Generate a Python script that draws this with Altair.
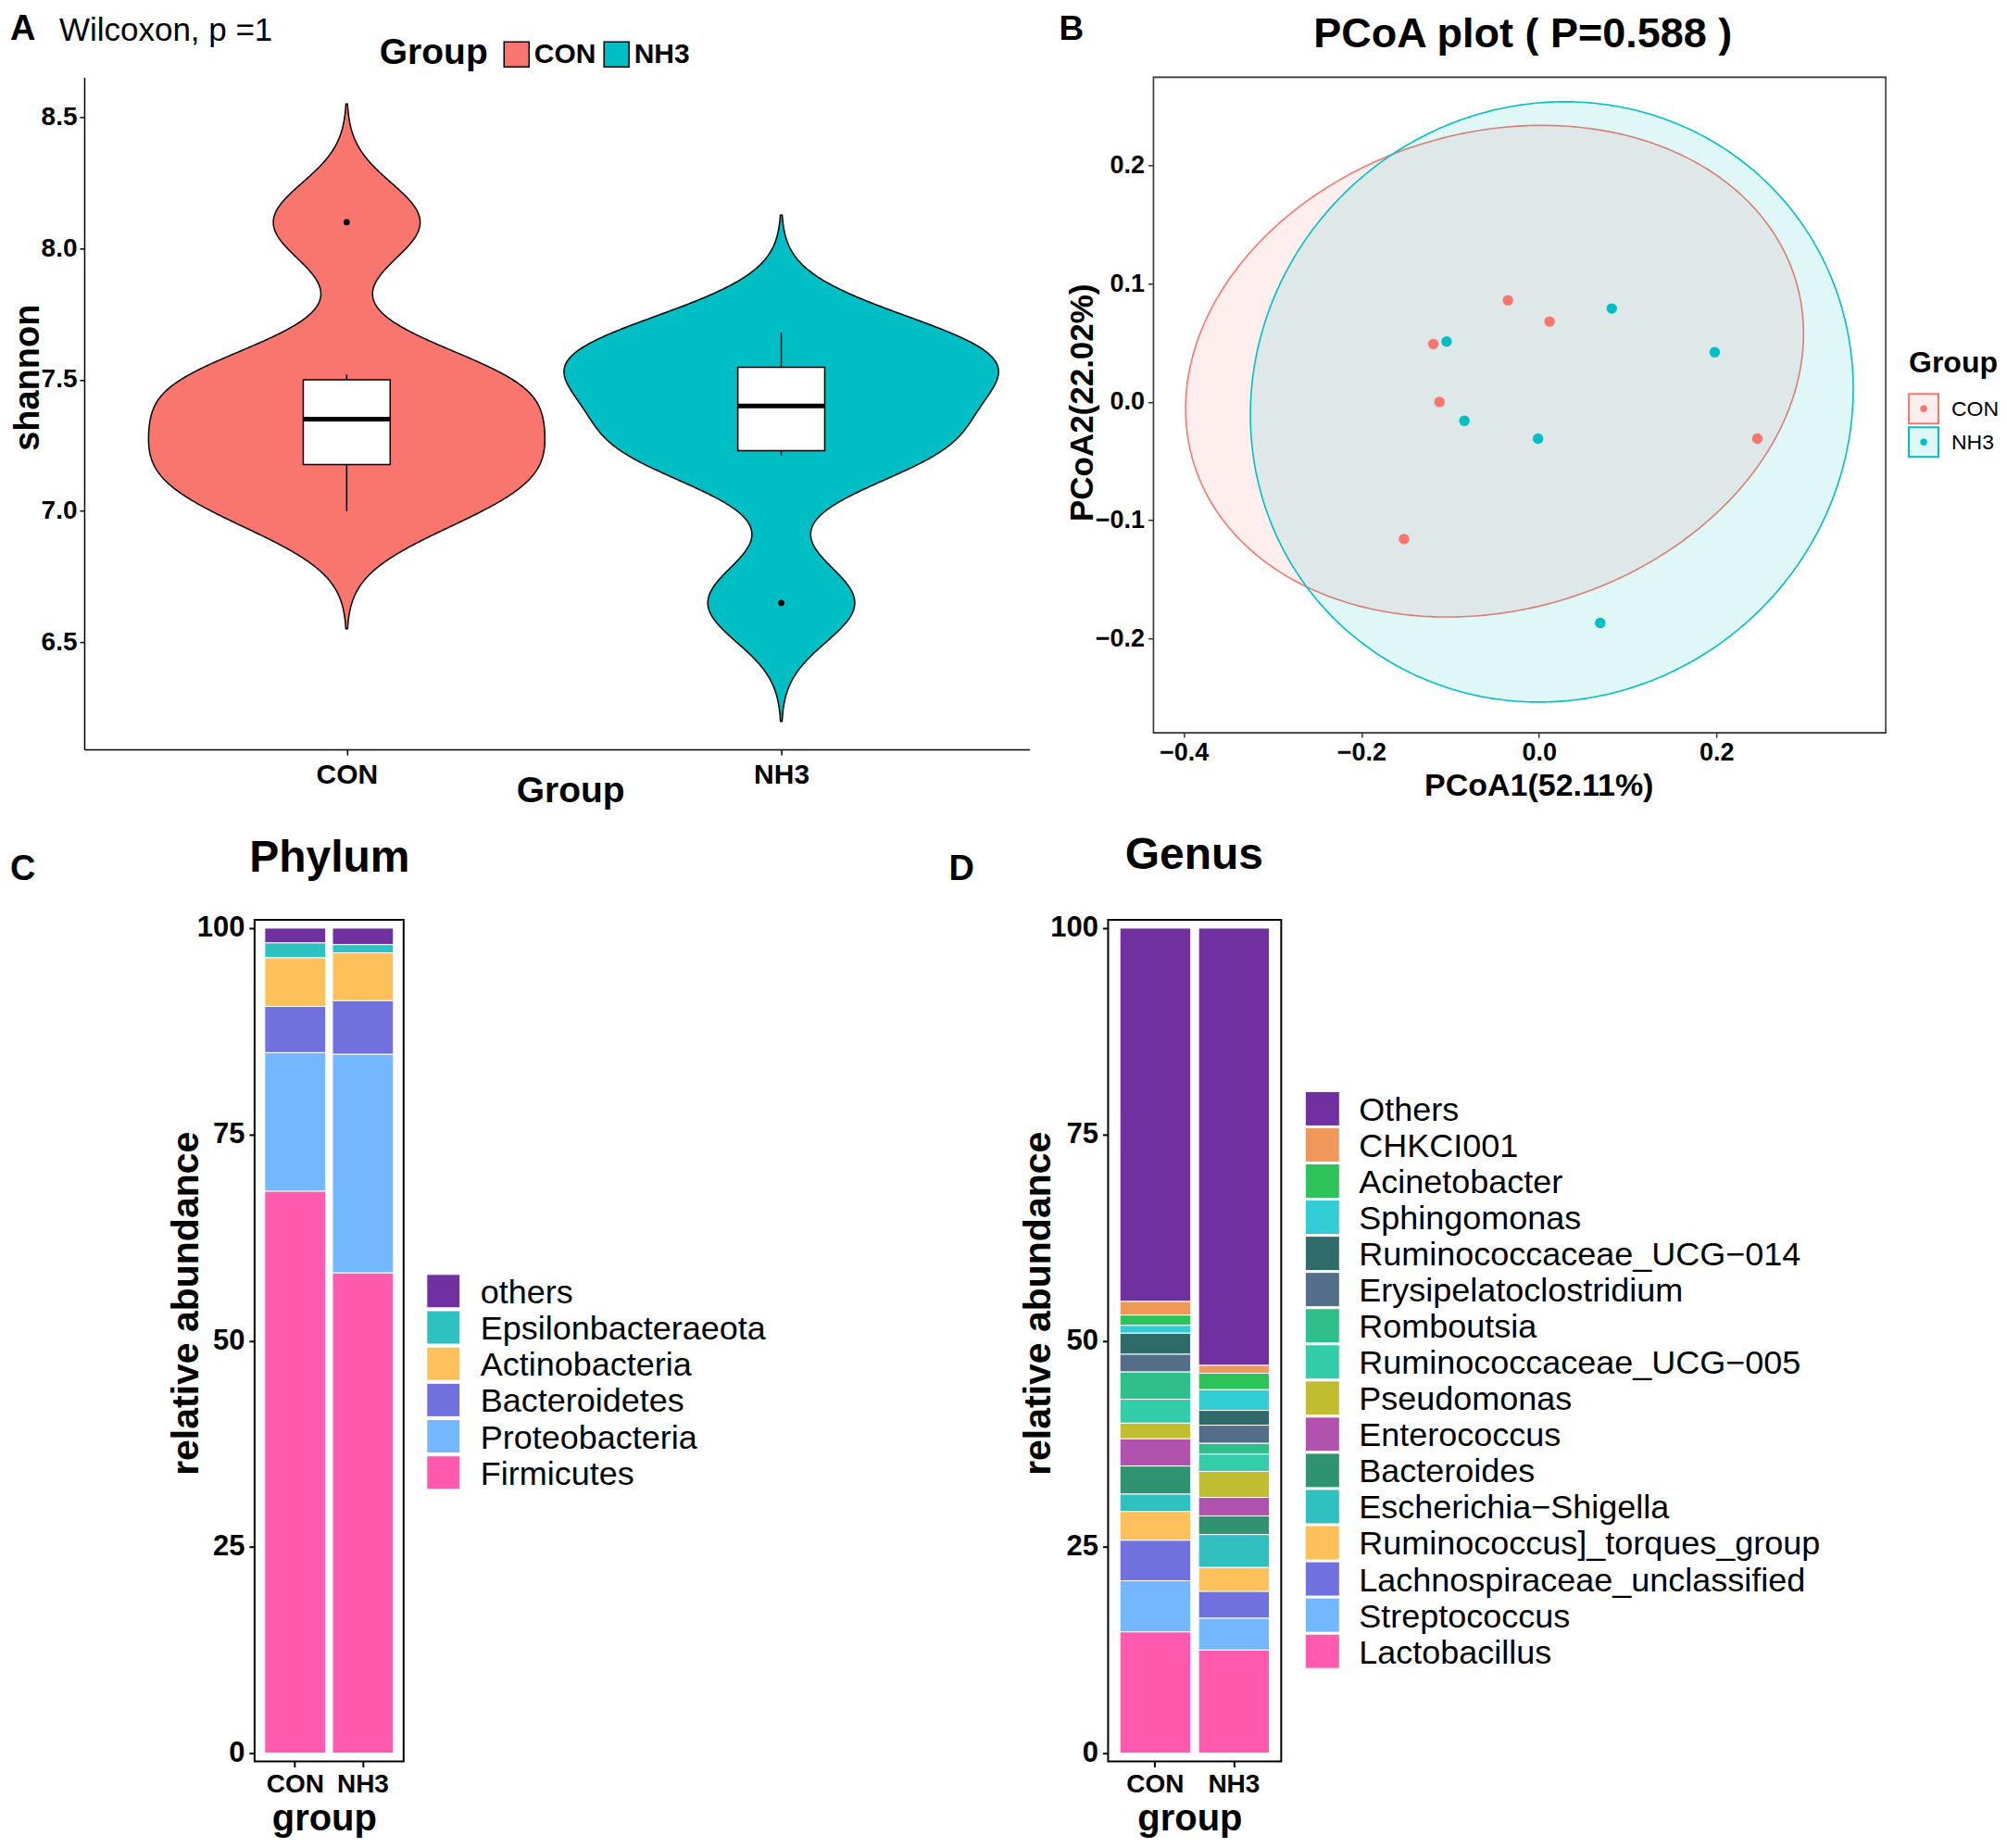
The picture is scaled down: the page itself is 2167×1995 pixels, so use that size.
import json
import altair as alt
import numpy as np
import pandas as pd

FONT = "Liberation Sans"

# ---------------------------------------------------------------- data
groups = ["CON", "NH3"]
group_colors = ["#F8766D", "#00BFC4"]

# Panel A - Shannon index of each sample
shannon_con = [7.00, 7.15, 7.26, 7.44, 7.52, 8.10]
shannon_nh3 = [6.65, 7.21, 7.29, 7.51, 7.56, 7.68]

# Panel B - PCoA coordinates of each sample
pcoa1_con = [-0.035, 0.012, -0.119, -0.112, 0.246, -0.152]
pcoa2_con = [0.086, 0.068, 0.049, 0.000, -0.031, -0.116]
pcoa1_nh3 = [0.082, 0.198, -0.104, -0.084, -0.001, 0.069]
pcoa2_nh3 = [0.079, 0.042, 0.051, -0.016, -0.031, -0.187]
# confidence ellipse of each group: centre, half extents, correlation
ellipse_cx = [-0.050, 0.0145]
ellipse_cy = [0.026, 0.000]
ellipse_sx = [0.348, 0.3395]
ellipse_sy = [0.208, 0.254]
ellipse_rho = [0.153, 0.043]

# Panel C - phylum relative abundance (%), legend order (top of stack first)
phylum_names = ["others", "Epsilonbacteraeota", "Actinobacteria",
                "Bacteroidetes", "Proteobacteria", "Firmicutes"]
phylum_con = [1.8, 1.8, 5.9, 5.6, 16.8, 68.1]
phylum_nh3 = [2.0, 1.0, 5.8, 6.5, 26.5, 58.2]
phylum_colors = ["#7030A0", "#2EC1C1", "#FEC05A", "#7070DE", "#73B8FF", "#FF5AAD"]

# Panel D - genus relative abundance (%)
genus_names = ["Others", "CHKCI001", "Acinetobacter", "Sphingomonas",
               "Ruminococcaceae_UCG\u2212014", "Erysipelatoclostridium", "Romboutsia",
               "Ruminococcaceae_UCG\u2212005", "Pseudomonas", "Enterococcus",
               "Bacteroides", "Escherichia\u2212Shigella", "Ruminococcus]_torques_group",
               "Lachnospiraceae_unclassified", "Streptococcus", "Lactobacillus"]
genus_con = [45.25, 1.65, 1.25, 0.95, 2.55, 2.15, 3.3, 2.9, 1.9, 3.3,
             3.4, 2.1, 3.5, 4.9, 6.2, 14.7]
genus_nh3 = [53.0, 0.95, 2.0, 2.5, 1.8, 2.2, 1.3, 2.1, 3.15, 2.25,
             2.25, 4.0, 2.9, 3.25, 3.85, 12.5]
genus_colors = ["#7030A0", "#F0985A", "#2EC35A", "#31CCD4", "#2F6B6B", "#546E8A",
                "#2EBF8A", "#34CDAA", "#C0BE30", "#B052AE", "#2F9270", "#30C0C0",
                "#FEC05A", "#7070DE", "#73B8FF", "#FF5AAD"]


# ---------------------------------------------------------------- helpers
def label(text, x, y, size, weight="bold", align="left"):
    return alt.Chart(pd.DataFrame({"t": [text]})).mark_text(
        fontSize=size, fontWeight=weight, align=align, baseline="middle",
        color="black", font=FONT
    ).encode(text="t:N", x=alt.value(x), y=alt.value(y))


def guide(x, x2, y, y2):
    # invisible element that only reserves room at the page edge
    return alt.Chart(pd.DataFrame({"g": [0]})).mark_rule(opacity=0).encode(
        x=alt.value(x), x2=alt.value(x2), y=alt.value(y), y2=alt.value(y2))


def spacer(w, h=10):
    return alt.Chart(pd.DataFrame({"s": [0]})).mark_point(opacity=0).encode(
        x=alt.value(0), y=alt.value(0)).properties(width=w, height=h)


def bw_nrd0(v):
    v = np.asarray(v, float)
    q75, q25 = np.percentile(v, [75, 25])
    return 0.9 * min(v.std(ddof=1), (q75 - q25) / 1.34) * len(v) ** -0.2


grp_scale = alt.Scale(domain=groups, range=group_colors)
IND = dict(color="independent", fill="independent", stroke="independent")

# ---------------------------------------------------------------- panel A
df_a = pd.DataFrame({
    "Group": ["CON"] * len(shannon_con) + ["NH3"] * len(shannon_nh3),
    "shannon": shannon_con + shannon_nh3,
})
df_a["pos"] = df_a["Group"].map({g: i + 1 for i, g in enumerate(groups)})
bw = float(np.mean([bw_nrd0(shannon_con), bw_nrd0(shannon_nh3)]))
vals = [shannon_con, shannon_nh3]
bounds = pd.DataFrame({
    "Group": groups, "pos": [1, 2],
    "lo": [min(v) - 3 * bw for v in vals],
    "hi": [max(v) + 3 * bw for v in vals],
})

xA = alt.Scale(domain=[0.396, 2.571], nice=False, zero=False)
yA = alt.Scale(domain=[6.092, 8.652], nice=False, zero=False)
WA, HA = 1021, 726

axis_xA = alt.Axis(
    values=[1, 2], labelExpr=f"{json.dumps(groups)}[datum.value - 1]",
    title="Group", grid=False, domain=True, domainColor="black", domainWidth=1.5,
    ticks=True, tickColor="black", tickWidth=1.5, tickSize=6,
    labelFontSize=30, labelFontWeight="bold", labelColor="black", labelPadding=6,
    labelOverlap=False, labelFlush=False,
    titleFontSize=39, titleFontWeight="bold", titleColor="black",
    titleX=525, titleY=44, titleBaseline="middle", titleAlign="center")
axis_yA = alt.Axis(
    values=[6.5, 7.0, 7.5, 8.0, 8.5], format=".1f", title="shannon", grid=False,
    domain=True, domainColor="black", domainWidth=1.5,
    ticks=True, tickColor="black", tickWidth=1.5, tickSize=5,
    labelFontSize=28, labelFontWeight="bold", labelColor="black", labelPadding=3,
    labelFlush=False,
    titleFontSize=38, titleFontWeight="bold", titleColor="black",
    titleX=-60, titleY=324, titleAngle=-90, titleBaseline="middle", titleAlign="center")

violin = alt.Chart(df_a).transform_density(
    "shannon", groupby=["Group"], bandwidth=bw,
    extent=[float(bounds["lo"].min()), float(bounds["hi"].max())],
    steps=500, as_=["val", "dens"]
).transform_lookup(
    lookup="Group", from_=alt.LookupData(bounds, "Group", ["pos", "lo", "hi"])
).transform_filter(
    "datum.val >= datum.lo && datum.val <= datum.hi"
).transform_joinaggregate(
    maxd="max(dens)"
).transform_calculate(
    xa="datum.pos - 0.5 * datum.dens / datum.maxd",
    xb="datum.pos + 0.5 * datum.dens / datum.maxd",
).mark_area(orient="horizontal", stroke="black", strokeWidth=1.5).encode(
    y=alt.Y("val:Q", scale=yA, axis=axis_yA),
    x=alt.X("xa:Q", scale=xA, axis=axis_xA, stack=None),
    x2="xb:Q",
    fill=alt.Fill("Group:N", scale=grp_scale, legend=alt.Legend(
        orient="none", legendX=452, legendY=-40, direction="horizontal", title=None,
        symbolType="square", symbolSize=729, symbolStrokeColor="black",
        symbolStrokeWidth=1.5, labelFontSize=30, labelFontWeight="bold",
        labelColor="black", labelOffset=4, columnPadding=5, padding=0)),
)

box_base = alt.Chart(df_a).transform_joinaggregate(
    q1="q1(shannon)", q3="q3(shannon)", med="median(shannon)", groupby=["Group"]
).transform_calculate(
    lo="datum.q1 - 1.5 * (datum.q3 - datum.q1)",
    hi="datum.q3 + 1.5 * (datum.q3 - datum.q1)",
)
stats = box_base.transform_filter(
    "datum.shannon >= datum.lo && datum.shannon <= datum.hi"
).transform_aggregate(
    wmin="min(shannon)", wmax="max(shannon)", q1="max(q1)", q3="max(q3)",
    med="max(med)", groupby=["Group", "pos"]
).transform_calculate(bl="datum.pos - 0.1", br="datum.pos + 0.1")

whisker = stats.mark_rule(color="black", strokeWidth=1.5).encode(
    x=alt.X("pos:Q", scale=xA, axis=axis_xA),
    y=alt.Y("wmin:Q", scale=yA, axis=axis_yA), y2="wmax:Q")
boxrect = stats.mark_rect(fill="white", stroke="black", strokeWidth=1.5).encode(
    x=alt.X("bl:Q", scale=xA, axis=axis_xA), x2="br:Q",
    y=alt.Y("q1:Q", scale=yA, axis=axis_yA), y2="q3:Q")
median = stats.mark_rule(color="black", strokeWidth=5).encode(
    x=alt.X("bl:Q", scale=xA, axis=axis_xA), x2="br:Q",
    y=alt.Y("med:Q", scale=yA, axis=axis_yA))
outliers = box_base.transform_filter(
    "datum.shannon < datum.lo || datum.shannon > datum.hi"
).mark_circle(color="black", size=45, opacity=1).encode(
    x=alt.X("pos:Q", scale=xA, axis=axis_xA),
    y=alt.Y("shannon:Q", scale=yA, axis=axis_yA))

panel_a = alt.layer(
    violin, whisker, boxrect, median, outliers,
    label("A", -80, -51, 38),
    label("Wilcoxon, p =1", -27, -50, 35, weight="normal"),
    label("Group", 319, -26, 39),
    guide(-83, -82, 0, 10),
).properties(width=WA, height=HA)

# ---------------------------------------------------------------- panel B
WB, HB = 791, 708
xB = alt.Scale(domain=[-0.4342, 0.3906], nice=False, zero=False)
yB = alt.Scale(domain=[-0.280, 0.2747], nice=False, zero=False)

ell_df = pd.DataFrame({"Group": groups, "cx": ellipse_cx, "cy": ellipse_cy,
                       "sx": ellipse_sx, "sy": ellipse_sy, "rho": ellipse_rho})
pts_df = pd.DataFrame({
    "Group": ["CON"] * len(pcoa1_con) + ["NH3"] * len(pcoa1_nh3),
    "PCoA1": pcoa1_con + pcoa1_nh3,
    "PCoA2": pcoa2_con + pcoa2_nh3,
})

axis_common_b = dict(grid=False, domain=False, ticks=True, tickColor="#333333",
                     tickWidth=1.5, labelFontSize=27, labelFontWeight="bold",
                     labelColor="black", labelFlush=False,
                     titleFontWeight="bold", titleColor="black")
axis_xB = alt.Axis(values=[-0.4, -0.2, 0.0, 0.2], format=".1f", title="PCoA1(52.11%)",
                   tickSize=5, labelPadding=3, titleFontSize=34,
                   titleX=416, titleY=57, titleBaseline="middle", titleAlign="center",
                   **axis_common_b)
axis_yB = alt.Axis(values=[-0.2, -0.1, 0.0, 0.1, 0.2], format=".1f",
                   title="PCoA2(22.02%)", tickSize=6, labelPadding=4, titleFontSize=35,
                   titleX=-77, titleY=351, titleAngle=-90, titleBaseline="middle",
                   titleAlign="center", **axis_common_b)

ellipses = alt.Chart(ell_df).transform_calculate(
    k="sequence(0, 241)"
).transform_flatten(["k"]).transform_calculate(
    u="-cos(PI * datum.k / 240)",
    ex="datum.cx + datum.sx * datum.u",
    ey1="datum.cy + datum.sy * (datum.rho * datum.u + sqrt(1 - datum.rho * datum.rho) * sqrt(max(0, 1 - datum.u * datum.u)))",
    ey2="datum.cy + datum.sy * (datum.rho * datum.u - sqrt(1 - datum.rho * datum.rho) * sqrt(max(0, 1 - datum.u * datum.u)))",
).mark_area(fillOpacity=0.12, strokeWidth=1.6).encode(
    x=alt.X("ex:Q", scale=xB, axis=axis_xB),
    y=alt.Y("ey1:Q", scale=yB, axis=axis_yB, stack=None),
    y2="ey2:Q",
    fill=alt.Fill("Group:N", scale=grp_scale, legend=None),
    stroke=alt.Stroke("Group:N", scale=grp_scale, legend=None),
)
points = alt.Chart(pts_df).mark_circle(size=130, opacity=1).encode(
    x=alt.X("PCoA1:Q", scale=xB, axis=axis_xB),
    y=alt.Y("PCoA2:Q", scale=yB, axis=None),
    color=alt.Color("Group:N", scale=grp_scale, legend=None),
)

# legend of panel B: outlined key with a dot, as in the original
leg_b = pd.DataFrame({"Group": groups})
leg_b_y = alt.Y("Group:N", axis=None,
                scale=alt.Scale(type="point", domain=groups, range=[358, 394], padding=0))
leg_b_box = alt.Chart(leg_b).mark_square(size=1024, strokeWidth=2, fillOpacity=0.12,
                                         opacity=1).encode(
    x=alt.value(832), y=leg_b_y,
    fill=alt.Fill("Group:N", scale=grp_scale, legend=None),
    stroke=alt.Stroke("Group:N", scale=grp_scale, legend=None))
leg_b_dot = alt.Chart(leg_b).mark_circle(size=55, opacity=1).encode(
    x=alt.value(832), y=leg_b_y,
    color=alt.Color("Group:N", scale=grp_scale, legend=None))
leg_b_txt = alt.Chart(leg_b).mark_text(align="left", baseline="middle", fontSize=23,
                                       color="black", font=FONT, dy=1).encode(
    x=alt.value(862), y=leg_b_y, text="Group:N")

panel_b = alt.layer(
    ellipses, points, leg_b_box, leg_b_dot, leg_b_txt,
    label("Group", 816, 309, 32),
    label("PCoA plot ( P=0.588 )", 399, -46, 45, align="center"),
    label("B", -102, -51, 37),
    guide(0, 10, -74, -73),
).resolve_scale(y="independent").properties(
    width=WB, height=HB, view=alt.ViewBackground(stroke="#333333", strokeWidth=1.6))


# ---------------------------------------------------------------- panels C, D
def stacked(names, con_vals, nh3_vals, colors, width, title, title_x, title_y,
            letter, letter_x, key_x, key_size, text_x, key_range, xtitle_x, ytitle_x):
    rows = []
    for g, vals_g in zip(groups, [con_vals, nh3_vals]):
        for k, (n, v) in enumerate(zip(names, vals_g)):
            rows.append({"group": g, "taxon": n, "abundance": v,
                         "ord": len(names) - 1 - k})
    df = pd.DataFrame(rows)
    cscale = alt.Scale(domain=names, range=colors)
    bars = alt.Chart(df).mark_bar(stroke="white", strokeWidth=1).encode(
        x=alt.X("group:N", scale=alt.Scale(domain=groups, paddingInner=0.1,
                                           paddingOuter=0.15),
                axis=alt.Axis(title="group", labelAngle=0, domain=False, ticks=True,
                              tickColor="black", tickWidth=2, tickSize=6,
                              labelFontSize=28, labelFontWeight="bold",
                              labelColor="black", labelPadding=5, labelOverlap=False,
                              titleFontSize=40, titleFontWeight="bold",
                              titleColor="black", titleX=xtitle_x, titleY=74,
                              titleBaseline="alphabetic", titleAlign="center")),
        y=alt.Y("abundance:Q", stack="zero",
                scale=alt.Scale(domain=[-1, 101], nice=False, zero=False),
                axis=alt.Axis(values=[0, 25, 50, 75, 100], format="d",
                              title="relative abundance", grid=False, domain=False,
                              ticks=True, tickColor="black", tickWidth=2, tickSize=6,
                              labelFontSize=31, labelFontWeight="bold",
                              labelColor="black", labelPadding=5, labelFlush=False,
                              titleFontSize=41, titleFontWeight="bold",
                              titleColor="black", titleX=ytitle_x, titleY=414,
                              titleAngle=-90, titleBaseline="middle",
                              titleAlign="center")),
        color=alt.Color("taxon:N", scale=cscale, legend=None),
        order=alt.Order("ord:Q", sort="ascending"),
    )
    leg = pd.DataFrame({"taxon": names})
    ky = alt.Y("taxon:N", axis=None,
               scale=alt.Scale(type="point", domain=names, range=key_range, padding=0))
    keys = alt.Chart(leg).mark_square(size=key_size, stroke="white", strokeWidth=1,
                                      opacity=1).encode(
        x=alt.value(key_x), y=ky, color=alt.Color("taxon:N", scale=cscale, legend=None))
    texts = alt.Chart(leg).mark_text(align="left", baseline="middle", fontSize=36,
                                     color="black", font=FONT, dy=2).encode(
        x=alt.value(text_x), y=ky, text="taxon:N")
    return alt.layer(
        bars, keys, texts,
        label(title, title_x, title_y, 48, align="center"),
        label(letter, letter_x, -54, 38),
    ).resolve_scale(y="independent").properties(
        width=width, height=909, view=alt.ViewBackground(stroke="black", strokeWidth=2))


panel_c = stacked(phylum_names, phylum_con, phylum_nh3, phylum_colors, 161,
                  "Phylum", 81, -66, "C", -264, 204, 1296, 244, [401, 597], 75, -73)
panel_d = stacked(genus_names, genus_con, genus_nh3, genus_colors, 187,
                  "Genus", 93, -69, "D", -172, 231.5, 1369, 271, [204, 790], 88, -75)

row1 = alt.hconcat(panel_a, panel_b, spacing=134, bounds="flush") \
    .resolve_scale(**IND).resolve_legend(**IND)
row2 = alt.hconcat(spacer(184), panel_c, spacer(761), panel_d, spacing=0,
                   bounds="flush") \
    .resolve_scale(**IND).resolve_legend(**IND)

chart = alt.vconcat(row1, row2, spacing=26).resolve_scale(**IND).resolve_legend(**IND) \
    .properties(padding={"left": 0, "top": 0, "right": 0, "bottom": 0}) \
    .configure(font=FONT) \
    .configure_view(stroke=None) \
    .configure_axis(grid=False)

chart.save("out.html", embed_options={"renderer": "svg", "actions": False})
